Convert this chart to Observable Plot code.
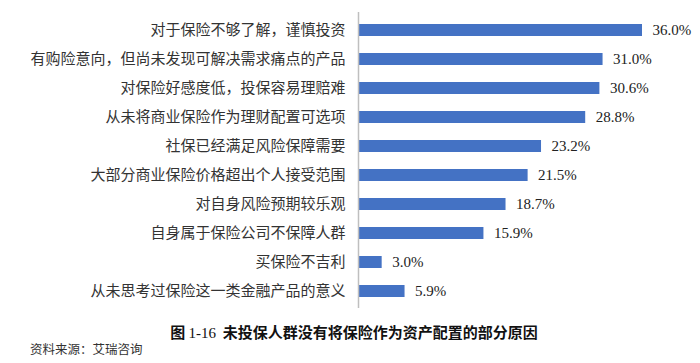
<!DOCTYPE html>
<html>
<head>
<meta charset="utf-8">
<script src="https://cdn.jsdelivr.net/npm/d3@7"></script>
<script src="https://cdn.jsdelivr.net/npm/@observablehq/plot@0.6"></script>
<style>
  body { margin: 0; background: #fff; }
  #wrap { position: relative; width: 700px; height: 363px; overflow: hidden; }
  #chart { position: absolute; left: 0; top: 0; }
  #title { position: absolute; left: 0; width: 708px; top: 322px; text-align: center;
           font: bold 15px "Noto Sans CJK SC", sans-serif; line-height: 20px; color: #111; white-space: nowrap; }
  #title .num { font-family: "Liberation Serif", serif; font-weight: normal; }
  #caption { position: absolute; left: 30px; top: 341px; font: 12.5px "Noto Sans CJK SC", serif;
             line-height: 16px; color: #333; white-space: nowrap; }
</style>
</head>
<body>
<div id="wrap">
  <div id="chart"></div>
  <div id="title">图 <span class="num">1-16</span>&nbsp; 未投保人群没有将保险作为资产配置的部分原因</div>
  <div id="caption">资料来源：艾瑞咨询</div>
</div>
<script>
const categories = [
  "对于保险不够了解，谨慎投资",
  "有购险意向，但尚未发现可解决需求痛点的产品",
  "对保险好感度低，投保容易理赔难",
  "从未将商业保险作为理财配置可选项",
  "社保已经满足风险保障需要",
  "大部分商业保险价格超出个人接受范围",
  "对自身风险预期较乐观",
  "自身属于保险公司不保障人群",
  "买保险不吉利",
  "从未思考过保险这一类金融产品的意义"
];
const values = [36.0, 31.0, 30.6, 28.8, 23.2, 21.5, 18.7, 15.9, 3.0, 5.9];

const data = categories.map((c, i) => ({category: c, value: values[i]}));

const chart = Plot.plot({
  width: 700,
  height: 310,
  marginLeft: 358,
  marginRight: 58,
  marginTop: 12,
  marginBottom: 2,
  x: {domain: [0, 36], axis: null},
  y: {domain: categories, paddingInner: 0.6, paddingOuter: 0.3, label: null},
  style: {fontFamily: "'Noto Sans CJK SC', sans-serif", background: "#fff"},
  marks: [
    Plot.barX(data, {x: "value", y: "category", fill: "#4472C4"}),
    Plot.ruleX([0], {stroke: "#bfbfbf", strokeWidth: 1.5}),
    Plot.axisY({tickSize: 0, tickPadding: 13, fontSize: 15, fill: "#333", label: null}),
    Plot.text(data, {
      x: "value", y: "category",
      text: d => d.value.toFixed(1) + "%",
      textAnchor: "start", dx: 10,
      fontSize: 15, fontFamily: "'Liberation Serif', serif", fill: "#222"
    })
  ]
});
document.getElementById("chart").appendChild(chart);
</script>
</body>
</html>
